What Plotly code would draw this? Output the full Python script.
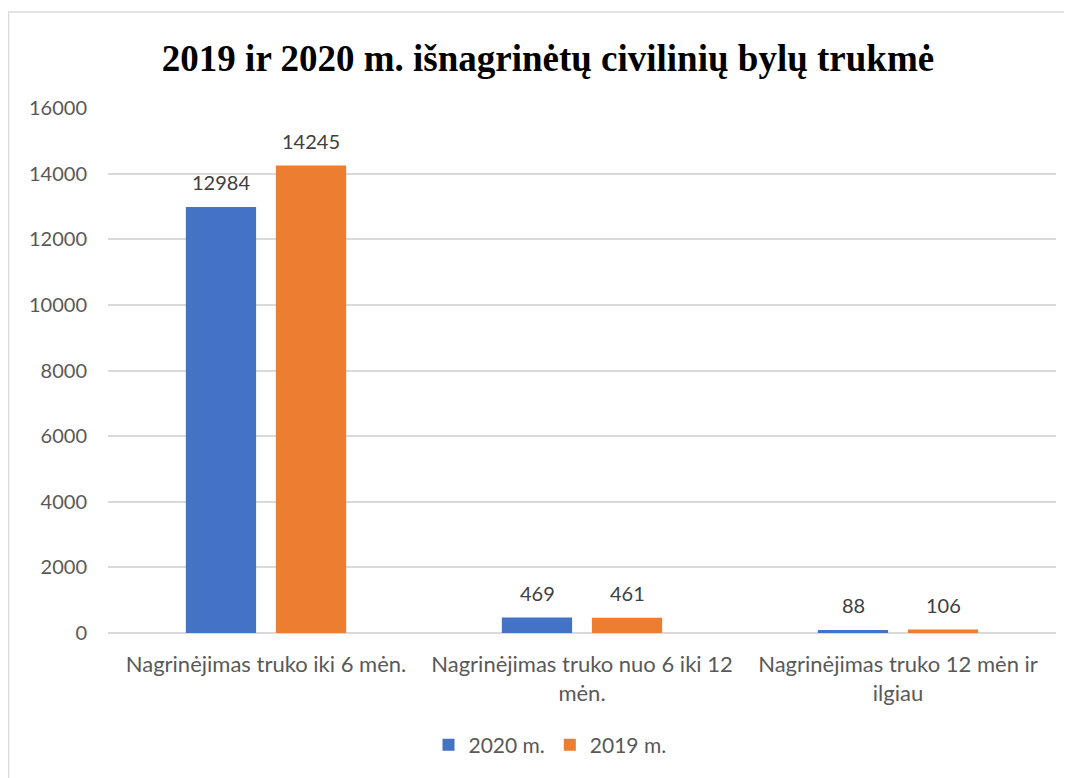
import plotly.graph_objects as go

categories = [
    "Nagrinėjimas truko iki 6 mėn.",
    "Nagrinėjimas truko nuo 6 iki 12<br>mėn.",
    "Nagrinėjimas truko 12 mėn ir<br>ilgiau",
]
values_2020 = [12984, 469, 88]
values_2019 = [14245, 461, 106]
series_names = ["2020 m.", "2019 m."]
colors = ["#4472C4", "#ED7D31"]

# the page adds an 8px body margin, so the figure is drawn 8px smaller
W, H = 1064, 770
ml, mr, mt, mb = 100, 16, 100, 145
pw, ph = W - ml - mr, H - mt - mb

fig = go.Figure()
for name, vals, col in zip(series_names, [values_2020, values_2019], colors):
    fig.add_trace(
        go.Bar(
            x=categories,
            y=vals,
            name=name,
            marker=dict(color=col, line=dict(width=0)),
        )
    )

# value labels above the bars
for vals, shift in zip([values_2020, values_2019], [-45, 45]):
    for cat, v in zip(categories, vals):
        fig.add_annotation(
            x=cat,
            y=v,
            text=str(v),
            showarrow=False,
            xshift=shift,
            yshift=25,
            yanchor="middle",
            font=dict(family="Lato", size=20, color="#404040"),
        )

# light frame around the chart
fig.add_shape(
    type="rect",
    xref="paper",
    yref="paper",
    x0=(0.5 - ml) / pw,
    x1=1.2,
    y0=-0.5,
    y1=(H - mb - 4) / ph,
    line=dict(color="#D9D9D9", width=1.5),
    layer="below",
)

fig.update_layout(
    width=W,
    height=H,
    margin=dict(l=ml, r=mr, t=mt, b=mb),
    paper_bgcolor="white",
    plot_bgcolor="white",
    barmode="group",
    bargap=0.43,
    bargroupgap=0.22,
    title=dict(
        text="<b>2019 ir 2020 m. išnagrinėtų civilinių bylų trukmė</b>",
        font=dict(family="Liberation Serif", size=37, color="#000000"),
        x=540 / W,
        xanchor="center",
        y=1 - 50 / H,
        yanchor="middle",
    ),
    xaxis=dict(
        tickfont=dict(family="Lato", size=22, color="#595959"),
        showgrid=False,
        showline=False,
        ticks="",
        ticklabelstandoff=16,
    ),
    yaxis=dict(
        range=[0, 16000],
        dtick=2000,
        tickformat="d",
        tickfont=dict(family="Lato", size=20, color="#595959"),
        gridcolor="#D9D9D9",
        gridwidth=1.5,
        zeroline=True,
        zerolinecolor="#D9D9D9",
        zerolinewidth=1.5,
        showline=False,
        ticks="",
        ticklabelstandoff=20,
    ),
    legend=dict(
        orientation="h",
        x=(542 - ml) / pw,
        xanchor="center",
        y=-(737 - (H - mb)) / ph,
        yanchor="middle",
        font=dict(family="Lato", size=21, color="#595959"),
        itemwidth=30,
    ),
    showlegend=True,
)

fig.write_html("out.html")
